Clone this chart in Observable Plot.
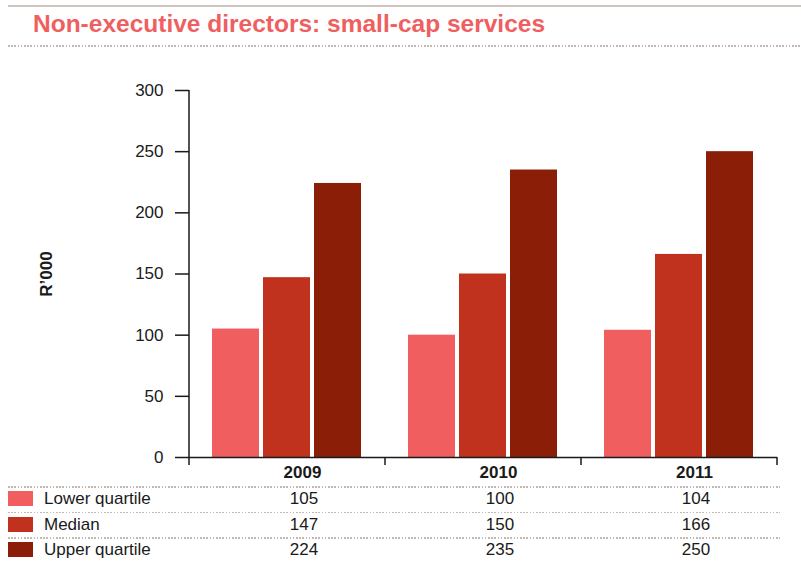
<!DOCTYPE html>
<html>
<head>
<meta charset="utf-8">
<script src="https://cdn.jsdelivr.net/npm/d3@7"></script>
<script src="https://cdn.jsdelivr.net/npm/@observablehq/plot@0.6"></script>
<style>
  body { margin: 0; background: #fff; font-family: "Liberation Sans", Arial, Helvetica, sans-serif; color: #1a1a1a; }
  #page { position: relative; width: 801px; height: 561px; overflow: hidden; }
  .rule-top { position: absolute; left: 8px; right: 0; top: 5px; height: 2px; background: #cfc5bf; }
  h1 { position: absolute; left: 33px; top: 12px; margin: 0; font-size: 24.5px; line-height: 1; font-weight: bold; color: #ef5f5f; white-space: nowrap; }
  .dots { position: absolute; left: 8px; right: 0; height: 1.5px;
          background: repeating-linear-gradient(to right, #c4b8b0 0 1.6px, transparent 1.6px 3.2px); }
  #chart { position: absolute; left: 0; top: 50px; }
  #chart g[aria-label="y-axis label"] text { font-weight: bold; }
  .cell { position: absolute; font-size: 17px; line-height: 1; white-space: nowrap; }
  .swatch { position: absolute; left: 8px; width: 25px; height: 15px; }
</style>
</head>
<body>
<div id="page">
  <div class="rule-top"></div>
  <h1>Non-executive directors: small-cap services</h1>
  <div class="dots" style="top:45px"></div>
  <div id="chart"></div>
  <div id="table"></div>
</div>
<script>
// Directors' fees (R'000) by year
const years = ["2009", "2010", "2011"];
const series = ["Lower quartile", "Median", "Upper quartile"];
const lowerQuartile = [105, 100, 104];
const median = [147, 150, 166];
const upperQuartile = [224, 235, 250];
const seriesColors = ["#f15e60", "#c0321e", "#8b1e06"];
const yTicks = [0, 50, 100, 150, 200, 250, 300];

const valuesBySeries = [lowerQuartile, median, upperQuartile];
const rows = years.flatMap((year, j) =>
  series.map((name, i) => ({year, series: name, value: valuesBySeries[i][j]}))
);

const chart = Plot.plot({
  width: 801,
  height: 432,
  marginTop: 40,
  marginBottom: 25,
  marginLeft: 188,
  marginRight: 23,
  style: {fontFamily: '"Liberation Sans", Arial, Helvetica, sans-serif', fontSize: "17px", color: "#1a1a1a", background: "transparent"},
  fx: {domain: years, padding: 0},
  x: {domain: series, paddingInner: 0.077, paddingOuter: 0.43, axis: null},
  y: {domain: [0, 300]},
  color: {domain: series, range: seriesColors},
  marks: [
    Plot.barY(rows, {fx: "year", x: "series", y: "value", fill: "series"}),
    Plot.ruleY([0], {stroke: "#1a1a1a", strokeWidth: 1.5}),
    Plot.axisY({
      ticks: yTicks, tickSize: 14, tickPadding: 12, strokeWidth: 1.5, fontSize: 17,
      label: "R’000", labelAnchor: "center", labelOffset: 150, labelArrow: "none"
    }),
    Plot.axisFx({anchor: "bottom", tickSize: 0, tickPadding: 8, fontWeight: "bold", fontSize: 17, dx: 15, label: null})
  ]
});
document.getElementById("chart").append(chart);

// Vertical axis line and the tick marks that separate the year groups
const fx = chart.scale("fx");
const y = chart.scale("y");
const edges = [...years.map((yr) => fx.apply(yr)), fx.apply(years[years.length - 1]) + fx.bandwidth];
const axisG = d3.select(chart).append("g").attr("stroke", "#1a1a1a").attr("stroke-width", 1.5);
axisG.append("line")
  .attr("x1", edges[0]).attr("x2", edges[0])
  .attr("y1", y.apply(300)).attr("y2", y.apply(0) + 8);
axisG.selectAll("line.edge").data(edges.slice(1)).join("line")
  .attr("class", "edge")
  .attr("x1", (d) => d).attr("x2", (d) => d)
  .attr("y1", y.apply(0)).attr("y2", y.apply(0) + 8);

// Data table below the chart, columns aligned with the year groups
const table = document.getElementById("table");
const tableTop = 486;
const rowHeight = 25.5;
const colCenter = (yr) => fx.apply(yr) + fx.bandwidth / 2 + 17;
series.forEach((name, i) => {
  const top = tableTop + i * rowHeight;
  const line = document.createElement("div");
  line.className = "dots";
  line.style.top = top + "px";
  line.style.right = "21px";
  table.append(line);

  const sw = document.createElement("div");
  sw.className = "swatch";
  sw.style.top = (top + 5) + "px";
  sw.style.background = seriesColors[i];
  table.append(sw);

  const label = document.createElement("div");
  label.className = "cell";
  label.textContent = name;
  label.style.left = "44px";
  label.style.top = (top + 4) + "px";
  table.append(label);

  years.forEach((yr, j) => {
    const cell = document.createElement("div");
    cell.className = "cell";
    cell.textContent = valuesBySeries[i][j];
    cell.style.left = colCenter(yr) + "px";
    cell.style.top = (top + 4) + "px";
    cell.style.transform = "translateX(-50%)";
    table.append(cell);
  });
});
</script>
</body>
</html>
